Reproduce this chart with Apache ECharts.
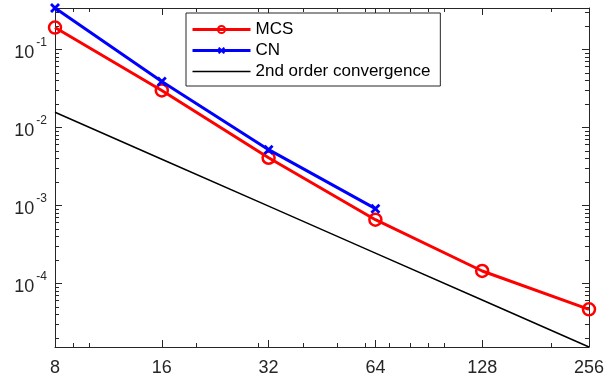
<!DOCTYPE html>
<html><head><meta charset="utf-8">
<script src="https://cdn.jsdelivr.net/npm/echarts@6/dist/echarts.min.js"></script>
<style>html,body{margin:0;padding:0;background:#fff}#c{width:607px;height:383px}</style>
</head><body><div id="c"></div>
<script>
const sizes = [8, 16, 32, 64, 128, 256];
const mcsErr = [0.191, 0.0298, 0.00408, 0.000655, 0.000144, 0.0000464];
const cnErr = [0.340, 0.0389, 0.00518, 0.000908];
const refErr = [0.015625, 0.00390625, 0.0009765625, 0.000244140625, 0.00006103515625, 0.0000152587890625];
const xTicks = [8, 16, 32, 64, 128, 256];
const xMinorTicks = [9, 10, 20, 30, 40, 50, 60, 70, 80, 90, 100, 200];
const yTicks = [1e-4, 1e-3, 1e-2, 1e-1];
const yMinorTicks = [2e-5,3e-5,4e-5,5e-5,6e-5,7e-5,8e-5,9e-5,
  2e-4,3e-4,4e-4,5e-4,6e-4,7e-4,8e-4,9e-4,
  2e-3,3e-3,4e-3,5e-3,6e-3,7e-3,8e-3,9e-3,
  2e-2,3e-2,4e-2,5e-2,6e-2,7e-2,8e-2,9e-2,
  2e-1,3e-1];
const X_MIN = 8, X_MAX = 256, Y_MIN = 1.526e-5, Y_MAX = 0.34;

const AX = '#262626';
const FONT = 'Liberation Sans';
const xShape = 'path://M0,2L2,0L5,3L8,0L10,2L7,5L10,8L8,10L5,7L2,10L0,8L3,5Z';

function xAx(pos, ticks, len, showLine, showLabel) {
  return {
    type: 'log', logBase: 2, min: X_MIN, max: X_MAX, position: pos,
    axisLine: {show: showLine, lineStyle: {color: AX, width: 1}},
    axisTick: {show: true, inside: true, length: len, customValues: ticks, lineStyle: {color: AX, width: 1}},
    axisLabel: {show: showLabel, customValues: xTicks, color: AX, fontFamily: FONT, fontSize: 18, margin: 12,
      formatter: v => String(Math.round(v))},
    splitLine: {show: false}, minorTick: {show: false}
  };
}
function yAx(pos, ticks, len, showLine, showLabel) {
  return {
    type: 'log', logBase: 10, min: Y_MIN, max: Y_MAX, position: pos,
    axisLine: {show: showLine, lineStyle: {color: AX, width: 1}},
    axisTick: {show: true, inside: true, length: len, customValues: ticks, lineStyle: {color: AX, width: 1}},
    axisLabel: {show: showLabel, customValues: yTicks, color: AX, fontFamily: FONT, margin: 8,
      formatter: v => {
        const e = Math.round(Math.log10(v));
        return '{b|10}{e|' + e + '}';
      },
      rich: {
        b: {fontSize: 18, fontFamily: FONT, color: AX, verticalAlign: 'bottom', padding: [8, 2, 0, 0]},
        e: {fontSize: 12, fontFamily: FONT, color: AX, verticalAlign: 'top', padding: [0, 0, 10, 0]}
      }},
    splitLine: {show: false}, minorTick: {show: false}
  };
}

const chart = echarts.init(document.getElementById('c'), null, {renderer: 'canvas'});
chart.setOption({
  animation: false,
  backgroundColor: '#ffffff',
  grid: {left: 55, top: 8, right: 14, bottom: 36, containLabel: false},
  xAxis: [
    xAx('bottom', xTicks, 7, true, true),
    xAx('bottom', xMinorTicks, 4, false, false),
    xAx('top', xTicks, 7, true, false),
    xAx('top', xMinorTicks, 4, false, false)
  ],
  yAxis: [
    yAx('left', yTicks, 7, true, true),
    yAx('left', yMinorTicks, 4, false, false),
    yAx('right', yTicks, 7, true, false),
    yAx('right', yMinorTicks, 4, false, false)
  ],
  legend: {
    orient: 'vertical', left: 186, top: 13,
    backgroundColor: '#fff', borderColor: AX, borderWidth: 1,
    padding: [8, 10, 6, 5], itemGap: 4, itemWidth: 58, itemHeight: 9,
    textStyle: {fontFamily: FONT, fontSize: 17, color: '#000', lineHeight: 17},
    data: [
      {name: 'MCS', lineStyle: {width: 3}},
      {name: 'CN', lineStyle: {width: 3}},
      {name: '2nd order convergence', icon: 'path://M0,0H58V1.5H0Z'}
    ]
  },
  series: [
    {
      name: 'MCS', type: 'line', xAxisIndex: 0, yAxisIndex: 0,
      data: sizes.map((n, i) => [n, mcsErr[i]]),
      symbol: 'circle', symbolSize: 12,
      itemStyle: {color: 'rgba(255,255,255,0)', borderColor: '#ff0000', borderWidth: 2.5},
      lineStyle: {color: '#ff0000', width: 3}, z: 3
    },
    {
      name: 'CN', type: 'line', xAxisIndex: 0, yAxisIndex: 0,
      data: sizes.slice(0, cnErr.length).map((n, i) => [n, cnErr[i]]),
      symbol: xShape, symbolSize: 10,
      itemStyle: {color: '#0000ff'},
      lineStyle: {color: '#0000ff', width: 3}, z: 4
    },
    {
      name: '2nd order convergence', type: 'line', xAxisIndex: 0, yAxisIndex: 0,
      data: sizes.map((n, i) => [n, refErr[i]]),
      symbol: 'none',
      itemStyle: {color: '#000'},
      lineStyle: {color: '#000', width: 1.5}, z: 2
    }
  ]
});
</script></body></html>
